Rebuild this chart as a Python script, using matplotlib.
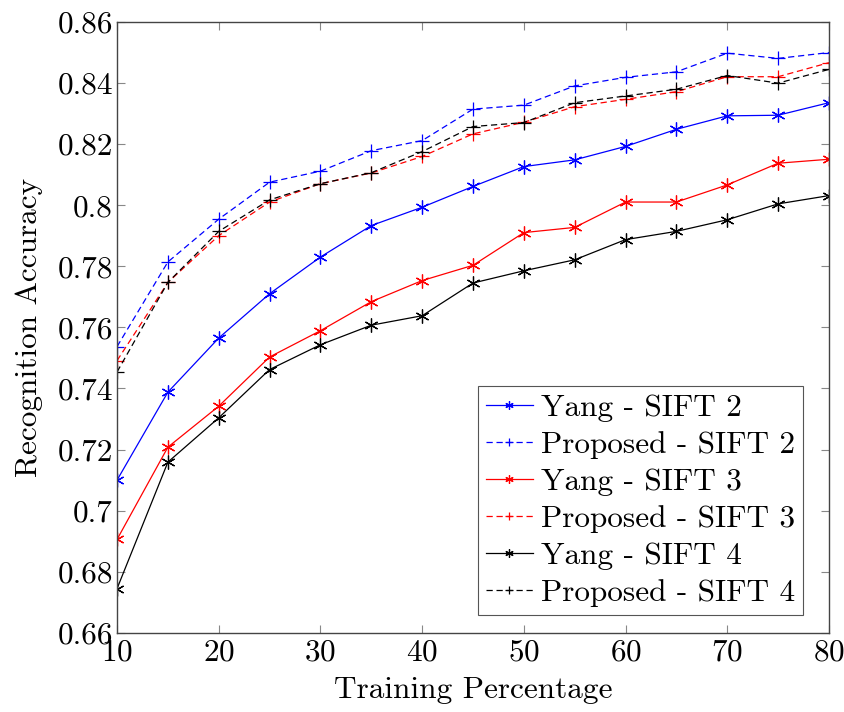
import matplotlib
matplotlib.use("Agg")
import matplotlib.pyplot as plt
from matplotlib.ticker import FuncFormatter

plt.rcParams['font.family'] = 'serif'
plt.rcParams['font.serif'] = ['cmr10']
plt.rcParams['mathtext.fontset'] = 'cm'
plt.rcParams['axes.formatter.use_mathtext'] = True

# training percentage
train_pct = [10, 15, 20, 25, 30, 35, 40, 45, 50, 55, 60, 65, 70, 75, 80]

yang_sift2 = [0.710, 0.7388, 0.7565, 0.771, 0.783, 0.7933, 0.7993, 0.8061,
              0.8126, 0.8148, 0.8192, 0.8248, 0.8292, 0.8294, 0.8335]
prop_sift2 = [0.7537, 0.7814, 0.7954, 0.8075, 0.8111, 0.8178, 0.8211, 0.8314,
              0.8327, 0.839, 0.8418, 0.8436, 0.8497, 0.848, 0.8499]
yang_sift3 = [0.6906, 0.7208, 0.7342, 0.7503, 0.7589, 0.7684, 0.7753, 0.7803,
              0.791, 0.7927, 0.801, 0.801, 0.8066, 0.8137, 0.815]
prop_sift3 = [0.7491, 0.7747, 0.790, 0.801, 0.807, 0.8105, 0.8159, 0.8233,
              0.8271, 0.8322, 0.8346, 0.8371, 0.842, 0.842, 0.8466]
yang_sift4 = [0.6745, 0.7159, 0.7304, 0.7462, 0.7543, 0.7607, 0.7638, 0.7745,
              0.7785, 0.7821, 0.7887, 0.7914, 0.7952, 0.8004, 0.8031]
prop_sift4 = [0.7454, 0.7747, 0.7914, 0.8017, 0.807, 0.8106, 0.8175, 0.8257,
              0.827, 0.8335, 0.8357, 0.8379, 0.8424, 0.8399, 0.8444]

series = [
    ("Yang - SIFT 2", yang_sift2, "blue", "-", (6, 2, 0)),
    ("Proposed - SIFT 2", prop_sift2, "blue", "--", "+"),
    ("Yang - SIFT 3", yang_sift3, "red", "-", (6, 2, 0)),
    ("Proposed - SIFT 3", prop_sift3, "red", "--", "+"),
    ("Yang - SIFT 4", yang_sift4, "black", "-", (6, 2, 0)),
    ("Proposed - SIFT 4", prop_sift4, "black", "--", "+"),
]

fs = 22.5

fig = plt.figure(figsize=(8.45, 7.12), dpi=100)
ax = fig.add_axes([0.1385, 0.111, 0.8425, 0.8585])

for label, vals, color, ls, mk in series:
    ax.plot(train_pct, vals, color=color, linestyle=ls, linewidth=0.9,
            marker=mk, markersize=10, markeredgewidth=0.9,
            dashes=(5, 3) if ls == "--" else (None, None), label=label)

ax.set_xlim(10, 80)
ax.set_ylim(0.66, 0.86)
ax.set_xticks(range(10, 81, 10))
ax.set_yticks([0.66 + 0.02 * i for i in range(11)])
ax.yaxis.set_major_formatter(FuncFormatter(lambda v, p: "%g" % round(v, 2)))
ax.tick_params(direction='in', top=True, right=True, length=6, width=0.8,
               color='#888888', labelsize=fs, pad=3)
ax.tick_params(axis='x', pad=4)
for sp in ax.spines.values():
    sp.set_color('#444444')
    sp.set_linewidth(1.0)

ax.set_xlabel("Training Percentage", fontsize=fs, labelpad=7)
ax.set_ylabel("Recognition Accuracy", fontsize=fs, labelpad=10)

leg = ax.legend(loc='lower right', bbox_to_anchor=(0.963, 0.03),
                borderaxespad=0, fontsize=fs, fancybox=False,
                edgecolor='#555555', framealpha=1, handlelength=1.5,
                handletextpad=0.25, labelspacing=0.29, borderpad=0.25,
                markerscale=0.6)
leg.get_frame().set_linewidth(0.8)

fig.savefig("out.png", dpi=100)
